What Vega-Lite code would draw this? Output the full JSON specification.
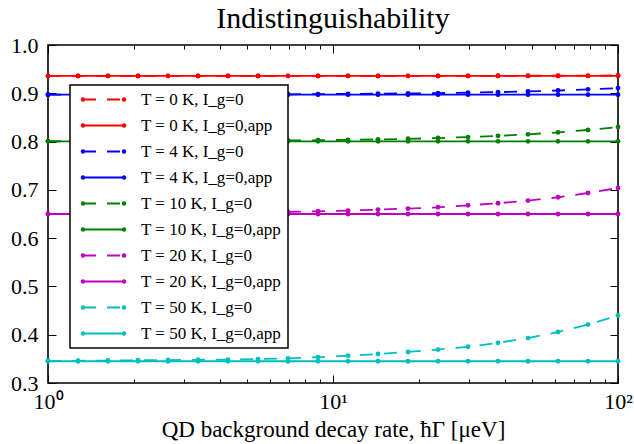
{
  "$schema": "https://vega.github.io/schema/vega-lite/v6.json",
  "width": 570,
  "height": 338,
  "autosize": {"type": "none"},
  "padding": {"left": 48, "top": 45, "right": 16, "bottom": 61},
  "title": {"text": "Indistinguishability", "font": "Liberation Serif", "fontSize": 30, "fontWeight": "normal", "color": "black", "offset": 0},
  "config": {
    "view": {"stroke": "black", "strokeWidth": 1.6},
    "axis": {"domain": false, "tickColor": "black", "labelColor": "black", "titleColor": "black", "labelFont": "Liberation Serif", "titleFont": "Liberation Serif", "labelFontSize": 22, "titleFontSize": 23, "titleFontWeight": "normal", "grid": false, "labelOverlap": false, "labelFlush": false}
  },
  "data": {"values": [
    {"x":1,"s":"T = 0 K, I_g=0","y":0.936},{"x":1.2743,"s":"T = 0 K, I_g=0","y":0.936},{"x":1.6238,"s":"T = 0 K, I_g=0","y":0.936},{"x":2.0691,"s":"T = 0 K, I_g=0","y":0.936},{"x":2.6367,"s":"T = 0 K, I_g=0","y":0.936},{"x":3.3598,"s":"T = 0 K, I_g=0","y":0.936},{"x":4.2813,"s":"T = 0 K, I_g=0","y":0.936},{"x":5.4556,"s":"T = 0 K, I_g=0","y":0.936},{"x":6.9519,"s":"T = 0 K, I_g=0","y":0.936},{"x":8.8587,"s":"T = 0 K, I_g=0","y":0.936},{"x":11.288,"s":"T = 0 K, I_g=0","y":0.936},{"x":14.384,"s":"T = 0 K, I_g=0","y":0.936},{"x":18.33,"s":"T = 0 K, I_g=0","y":0.936},{"x":23.357,"s":"T = 0 K, I_g=0","y":0.936},{"x":29.764,"s":"T = 0 K, I_g=0","y":0.9361},{"x":37.927,"s":"T = 0 K, I_g=0","y":0.9362},{"x":48.329,"s":"T = 0 K, I_g=0","y":0.9363},{"x":61.585,"s":"T = 0 K, I_g=0","y":0.9364},{"x":78.476,"s":"T = 0 K, I_g=0","y":0.9366},{"x":100,"s":"T = 0 K, I_g=0","y":0.9369},
    {"x":1,"s":"T = 0 K, I_g=0,app","y":0.936},{"x":1.2743,"s":"T = 0 K, I_g=0,app","y":0.936},{"x":1.6238,"s":"T = 0 K, I_g=0,app","y":0.936},{"x":2.0691,"s":"T = 0 K, I_g=0,app","y":0.936},{"x":2.6367,"s":"T = 0 K, I_g=0,app","y":0.936},{"x":3.3598,"s":"T = 0 K, I_g=0,app","y":0.936},{"x":4.2813,"s":"T = 0 K, I_g=0,app","y":0.936},{"x":5.4556,"s":"T = 0 K, I_g=0,app","y":0.936},{"x":6.9519,"s":"T = 0 K, I_g=0,app","y":0.936},{"x":8.8587,"s":"T = 0 K, I_g=0,app","y":0.936},{"x":11.288,"s":"T = 0 K, I_g=0,app","y":0.936},{"x":14.384,"s":"T = 0 K, I_g=0,app","y":0.936},{"x":18.33,"s":"T = 0 K, I_g=0,app","y":0.936},{"x":23.357,"s":"T = 0 K, I_g=0,app","y":0.936},{"x":29.764,"s":"T = 0 K, I_g=0,app","y":0.936},{"x":37.927,"s":"T = 0 K, I_g=0,app","y":0.936},{"x":48.329,"s":"T = 0 K, I_g=0,app","y":0.936},{"x":61.585,"s":"T = 0 K, I_g=0,app","y":0.936},{"x":78.476,"s":"T = 0 K, I_g=0,app","y":0.936},{"x":100,"s":"T = 0 K, I_g=0,app","y":0.936},
    {"x":1,"s":"T = 4 K, I_g=0","y":0.8972},{"x":1.2743,"s":"T = 4 K, I_g=0","y":0.8972},{"x":1.6238,"s":"T = 4 K, I_g=0","y":0.8973},{"x":2.0691,"s":"T = 4 K, I_g=0","y":0.8973},{"x":2.6367,"s":"T = 4 K, I_g=0","y":0.8974},{"x":3.3598,"s":"T = 4 K, I_g=0","y":0.8975},{"x":4.2813,"s":"T = 4 K, I_g=0","y":0.8976},{"x":5.4556,"s":"T = 4 K, I_g=0","y":0.8977},{"x":6.9519,"s":"T = 4 K, I_g=0","y":0.8979},{"x":8.8587,"s":"T = 4 K, I_g=0","y":0.8983},{"x":11.288,"s":"T = 4 K, I_g=0","y":0.8987},{"x":14.384,"s":"T = 4 K, I_g=0","y":0.8992},{"x":18.33,"s":"T = 4 K, I_g=0","y":0.8997},{"x":23.357,"s":"T = 4 K, I_g=0","y":0.9004},{"x":29.764,"s":"T = 4 K, I_g=0","y":0.9012},{"x":37.927,"s":"T = 4 K, I_g=0","y":0.9024},{"x":48.329,"s":"T = 4 K, I_g=0","y":0.9039},{"x":61.585,"s":"T = 4 K, I_g=0","y":0.9057},{"x":78.476,"s":"T = 4 K, I_g=0","y":0.9082},{"x":100,"s":"T = 4 K, I_g=0","y":0.9107},
    {"x":1,"s":"T = 4 K, I_g=0,app","y":0.8972},{"x":1.2743,"s":"T = 4 K, I_g=0,app","y":0.8972},{"x":1.6238,"s":"T = 4 K, I_g=0,app","y":0.8972},{"x":2.0691,"s":"T = 4 K, I_g=0,app","y":0.8972},{"x":2.6367,"s":"T = 4 K, I_g=0,app","y":0.8972},{"x":3.3598,"s":"T = 4 K, I_g=0,app","y":0.8972},{"x":4.2813,"s":"T = 4 K, I_g=0,app","y":0.8972},{"x":5.4556,"s":"T = 4 K, I_g=0,app","y":0.8972},{"x":6.9519,"s":"T = 4 K, I_g=0,app","y":0.8972},{"x":8.8587,"s":"T = 4 K, I_g=0,app","y":0.8972},{"x":11.288,"s":"T = 4 K, I_g=0,app","y":0.8972},{"x":14.384,"s":"T = 4 K, I_g=0,app","y":0.8972},{"x":18.33,"s":"T = 4 K, I_g=0,app","y":0.8972},{"x":23.357,"s":"T = 4 K, I_g=0,app","y":0.8972},{"x":29.764,"s":"T = 4 K, I_g=0,app","y":0.8972},{"x":37.927,"s":"T = 4 K, I_g=0,app","y":0.8972},{"x":48.329,"s":"T = 4 K, I_g=0,app","y":0.8972},{"x":61.585,"s":"T = 4 K, I_g=0,app","y":0.8972},{"x":78.476,"s":"T = 4 K, I_g=0,app","y":0.8972},{"x":100,"s":"T = 4 K, I_g=0,app","y":0.8972},
    {"x":1,"s":"T = 10 K, I_g=0","y":0.8006},{"x":1.2743,"s":"T = 10 K, I_g=0","y":0.8007},{"x":1.6238,"s":"T = 10 K, I_g=0","y":0.8008},{"x":2.0691,"s":"T = 10 K, I_g=0","y":0.8009},{"x":2.6367,"s":"T = 10 K, I_g=0","y":0.8011},{"x":3.3598,"s":"T = 10 K, I_g=0","y":0.8013},{"x":4.2813,"s":"T = 10 K, I_g=0","y":0.8015},{"x":5.4556,"s":"T = 10 K, I_g=0","y":0.8018},{"x":6.9519,"s":"T = 10 K, I_g=0","y":0.8022},{"x":8.8587,"s":"T = 10 K, I_g=0","y":0.8028},{"x":11.288,"s":"T = 10 K, I_g=0","y":0.8035},{"x":14.384,"s":"T = 10 K, I_g=0","y":0.8044},{"x":18.33,"s":"T = 10 K, I_g=0","y":0.8057},{"x":23.357,"s":"T = 10 K, I_g=0","y":0.8073},{"x":29.764,"s":"T = 10 K, I_g=0","y":0.8093},{"x":37.927,"s":"T = 10 K, I_g=0","y":0.8118},{"x":48.329,"s":"T = 10 K, I_g=0","y":0.815},{"x":61.585,"s":"T = 10 K, I_g=0","y":0.819},{"x":78.476,"s":"T = 10 K, I_g=0","y":0.824},{"x":100,"s":"T = 10 K, I_g=0","y":0.8302},
    {"x":1,"s":"T = 10 K, I_g=0,app","y":0.8005},{"x":1.2743,"s":"T = 10 K, I_g=0,app","y":0.8005},{"x":1.6238,"s":"T = 10 K, I_g=0,app","y":0.8005},{"x":2.0691,"s":"T = 10 K, I_g=0,app","y":0.8005},{"x":2.6367,"s":"T = 10 K, I_g=0,app","y":0.8005},{"x":3.3598,"s":"T = 10 K, I_g=0,app","y":0.8005},{"x":4.2813,"s":"T = 10 K, I_g=0,app","y":0.8005},{"x":5.4556,"s":"T = 10 K, I_g=0,app","y":0.8005},{"x":6.9519,"s":"T = 10 K, I_g=0,app","y":0.8005},{"x":8.8587,"s":"T = 10 K, I_g=0,app","y":0.8005},{"x":11.288,"s":"T = 10 K, I_g=0,app","y":0.8005},{"x":14.384,"s":"T = 10 K, I_g=0,app","y":0.8005},{"x":18.33,"s":"T = 10 K, I_g=0,app","y":0.8005},{"x":23.357,"s":"T = 10 K, I_g=0,app","y":0.8005},{"x":29.764,"s":"T = 10 K, I_g=0,app","y":0.8005},{"x":37.927,"s":"T = 10 K, I_g=0,app","y":0.8005},{"x":48.329,"s":"T = 10 K, I_g=0,app","y":0.8005},{"x":61.585,"s":"T = 10 K, I_g=0,app","y":0.8005},{"x":78.476,"s":"T = 10 K, I_g=0,app","y":0.8005},{"x":100,"s":"T = 10 K, I_g=0,app","y":0.8005},
    {"x":1,"s":"T = 20 K, I_g=0","y":0.6503},{"x":1.2743,"s":"T = 20 K, I_g=0","y":0.6504},{"x":1.6238,"s":"T = 20 K, I_g=0","y":0.6506},{"x":2.0691,"s":"T = 20 K, I_g=0","y":0.6509},{"x":2.6367,"s":"T = 20 K, I_g=0","y":0.6513},{"x":3.3598,"s":"T = 20 K, I_g=0","y":0.6518},{"x":4.2813,"s":"T = 20 K, I_g=0","y":0.6525},{"x":5.4556,"s":"T = 20 K, I_g=0","y":0.6534},{"x":6.9519,"s":"T = 20 K, I_g=0","y":0.6545},{"x":8.8587,"s":"T = 20 K, I_g=0","y":0.6556},{"x":11.288,"s":"T = 20 K, I_g=0","y":0.657},{"x":14.384,"s":"T = 20 K, I_g=0","y":0.6591},{"x":18.33,"s":"T = 20 K, I_g=0","y":0.6612},{"x":23.357,"s":"T = 20 K, I_g=0","y":0.6639},{"x":29.764,"s":"T = 20 K, I_g=0","y":0.668},{"x":37.927,"s":"T = 20 K, I_g=0","y":0.6722},{"x":48.329,"s":"T = 20 K, I_g=0","y":0.6778},{"x":61.585,"s":"T = 20 K, I_g=0","y":0.6846},{"x":78.476,"s":"T = 20 K, I_g=0","y":0.6935},{"x":100,"s":"T = 20 K, I_g=0","y":0.7039},
    {"x":1,"s":"T = 20 K, I_g=0,app","y":0.65},{"x":1.2743,"s":"T = 20 K, I_g=0,app","y":0.65},{"x":1.6238,"s":"T = 20 K, I_g=0,app","y":0.65},{"x":2.0691,"s":"T = 20 K, I_g=0,app","y":0.65},{"x":2.6367,"s":"T = 20 K, I_g=0,app","y":0.65},{"x":3.3598,"s":"T = 20 K, I_g=0,app","y":0.65},{"x":4.2813,"s":"T = 20 K, I_g=0,app","y":0.65},{"x":5.4556,"s":"T = 20 K, I_g=0,app","y":0.65},{"x":6.9519,"s":"T = 20 K, I_g=0,app","y":0.65},{"x":8.8587,"s":"T = 20 K, I_g=0,app","y":0.65},{"x":11.288,"s":"T = 20 K, I_g=0,app","y":0.65},{"x":14.384,"s":"T = 20 K, I_g=0,app","y":0.65},{"x":18.33,"s":"T = 20 K, I_g=0,app","y":0.65},{"x":23.357,"s":"T = 20 K, I_g=0,app","y":0.65},{"x":29.764,"s":"T = 20 K, I_g=0,app","y":0.65},{"x":37.927,"s":"T = 20 K, I_g=0,app","y":0.65},{"x":48.329,"s":"T = 20 K, I_g=0,app","y":0.65},{"x":61.585,"s":"T = 20 K, I_g=0,app","y":0.65},{"x":78.476,"s":"T = 20 K, I_g=0,app","y":0.65},{"x":100,"s":"T = 20 K, I_g=0,app","y":0.65},
    {"x":1,"s":"T = 50 K, I_g=0","y":0.3455},{"x":1.2743,"s":"T = 50 K, I_g=0","y":0.346},{"x":1.6238,"s":"T = 50 K, I_g=0","y":0.3465},{"x":2.0691,"s":"T = 50 K, I_g=0","y":0.347},{"x":2.6367,"s":"T = 50 K, I_g=0","y":0.3475},{"x":3.3598,"s":"T = 50 K, I_g=0","y":0.348},{"x":4.2813,"s":"T = 50 K, I_g=0","y":0.3485},{"x":5.4556,"s":"T = 50 K, I_g=0","y":0.3495},{"x":6.9519,"s":"T = 50 K, I_g=0","y":0.351},{"x":8.8587,"s":"T = 50 K, I_g=0","y":0.3535},{"x":11.288,"s":"T = 50 K, I_g=0","y":0.3565},{"x":14.384,"s":"T = 50 K, I_g=0","y":0.36},{"x":18.33,"s":"T = 50 K, I_g=0","y":0.3643},{"x":23.357,"s":"T = 50 K, I_g=0","y":0.3692},{"x":29.764,"s":"T = 50 K, I_g=0","y":0.375},{"x":37.927,"s":"T = 50 K, I_g=0","y":0.3832},{"x":48.329,"s":"T = 50 K, I_g=0","y":0.393},{"x":61.585,"s":"T = 50 K, I_g=0","y":0.4056},{"x":78.476,"s":"T = 50 K, I_g=0","y":0.421},{"x":100,"s":"T = 50 K, I_g=0","y":0.4399},
    {"x":1,"s":"T = 50 K, I_g=0,app","y":0.345},{"x":1.2743,"s":"T = 50 K, I_g=0,app","y":0.345},{"x":1.6238,"s":"T = 50 K, I_g=0,app","y":0.345},{"x":2.0691,"s":"T = 50 K, I_g=0,app","y":0.345},{"x":2.6367,"s":"T = 50 K, I_g=0,app","y":0.345},{"x":3.3598,"s":"T = 50 K, I_g=0,app","y":0.345},{"x":4.2813,"s":"T = 50 K, I_g=0,app","y":0.345},{"x":5.4556,"s":"T = 50 K, I_g=0,app","y":0.345},{"x":6.9519,"s":"T = 50 K, I_g=0,app","y":0.345},{"x":8.8587,"s":"T = 50 K, I_g=0,app","y":0.345},{"x":11.288,"s":"T = 50 K, I_g=0,app","y":0.345},{"x":14.384,"s":"T = 50 K, I_g=0,app","y":0.345},{"x":18.33,"s":"T = 50 K, I_g=0,app","y":0.345},{"x":23.357,"s":"T = 50 K, I_g=0,app","y":0.345},{"x":29.764,"s":"T = 50 K, I_g=0,app","y":0.345},{"x":37.927,"s":"T = 50 K, I_g=0,app","y":0.345},{"x":48.329,"s":"T = 50 K, I_g=0,app","y":0.345},{"x":61.585,"s":"T = 50 K, I_g=0,app","y":0.345},{"x":78.476,"s":"T = 50 K, I_g=0,app","y":0.345},{"x":100,"s":"T = 50 K, I_g=0,app","y":0.345}
  ]},
  "layer": [
    {
      "mark": {"type": "line", "strokeWidth": 1.8, "point": {"filled": true, "size": 24, "opacity": 1}},
      "encoding": {
        "x": {"field": "x", "type": "quantitative", "scale": {"type": "log", "domain": [1, 100], "nice": false},
              "axis": {"orient": "bottom", "values": [1, 10, 100], "tickSize": -8, "labelPadding": 16, "labelExpr": "datum.value == 1 ? '10⁰' : datum.value == 10 ? '10¹' : '10²'", "title": "QD background decay rate, ħΓ [μeV]", "titlePadding": 6}},
        "y": {"field": "y", "type": "quantitative", "scale": {"domain": [0.3, 1.0], "nice": false, "zero": false},
              "axis": {"orient": "left", "values": [0.3, 0.4, 0.5, 0.6, 0.7, 0.8, 0.9, 1.0], "format": ".1f", "tickSize": -8, "labelPadding": 18, "title": null}},
        "color": {"field": "s", "type": "nominal",
          "scale": {"domain": ["T = 0 K, I_g=0", "T = 0 K, I_g=0,app", "T = 4 K, I_g=0", "T = 4 K, I_g=0,app", "T = 10 K, I_g=0", "T = 10 K, I_g=0,app", "T = 20 K, I_g=0", "T = 20 K, I_g=0,app", "T = 50 K, I_g=0", "T = 50 K, I_g=0,app"],
                    "range": ["#ff0000", "#ff0000", "#0000ff", "#0000ff", "#008000", "#008000", "#bf00bf", "#bf00bf", "#00bfbf", "#00bfbf"]},
          "legend": {"title": null, "orient": "none", "legendX": 22, "legendY": 40, "fillColor": "white", "strokeColor": "black", "padding": 6, "cornerRadius": 0,
                     "symbolType": "M-1,0L1,0M-1.06,0A0.06,0.06,0,1,0,-0.94,0A0.06,0.06,0,1,0,-1.06,0M0.94,0A0.06,0.06,0,1,0,1.06,0A0.06,0.06,0,1,0,0.94,0",
                     "symbolSize": 1681, "symbolStrokeWidth": 2, "symbolOffset": 6, "clipHeight": 17, "rowPadding": 8, "labelOffset": 16,
                     "labelFont": "Liberation Serif", "labelFontSize": 17, "labelColor": "black", "labelLimit": 300,
                     "encode": {"legend": {"update": {"strokeWidth": {"value": 1.5}}}}}},
        "strokeDash": {"field": "s", "type": "nominal",
          "scale": {"domain": ["T = 0 K, I_g=0", "T = 0 K, I_g=0,app", "T = 4 K, I_g=0", "T = 4 K, I_g=0,app", "T = 10 K, I_g=0", "T = 10 K, I_g=0,app", "T = 20 K, I_g=0", "T = 20 K, I_g=0,app", "T = 50 K, I_g=0", "T = 50 K, I_g=0,app"],
                    "range": [[13, 11], [1, 0], [13, 11], [1, 0], [13, 11], [1, 0], [13, 11], [1, 0], [13, 11], [1, 0]]}}
      }
    },
    {
      "mark": {"type": "point", "opacity": 0},
      "encoding": {
        "x": {"field": "x", "type": "quantitative", "scale": {"type": "log", "domain": [1, 100], "nice": false},
              "axis": {"orient": "top", "values": [1, 10, 100], "tickSize": -8, "labels": false, "title": null}},
        "y": {"field": "y", "type": "quantitative", "scale": {"domain": [0.3, 1.0], "nice": false, "zero": false},
              "axis": {"orient": "right", "values": [0.3, 0.4, 0.5, 0.6, 0.7, 0.8, 0.9, 1.0], "tickSize": -8, "labels": false, "title": null}}
      }
    },
    {
      "mark": {"type": "point", "opacity": 0},
      "encoding": {
        "x": {"field": "x", "type": "quantitative", "scale": {"type": "log", "domain": [1, 100], "nice": false},
              "axis": {"orient": "bottom", "values": [2, 3, 4, 5, 6, 7, 8, 9, 20, 30, 40, 50, 60, 70, 80, 90], "tickSize": -4, "labels": false, "title": null}},
        "y": {"field": "y", "type": "quantitative", "axis": null}
      }
    },
    {
      "mark": {"type": "point", "opacity": 0},
      "encoding": {
        "x": {"field": "x", "type": "quantitative", "scale": {"type": "log", "domain": [1, 100], "nice": false},
              "axis": {"orient": "top", "values": [2, 3, 4, 5, 6, 7, 8, 9, 20, 30, 40, 50, 60, 70, 80, 90], "tickSize": -4, "labels": false, "title": null}},
        "y": {"field": "y", "type": "quantitative", "axis": null}
      }
    }
  ]
}
